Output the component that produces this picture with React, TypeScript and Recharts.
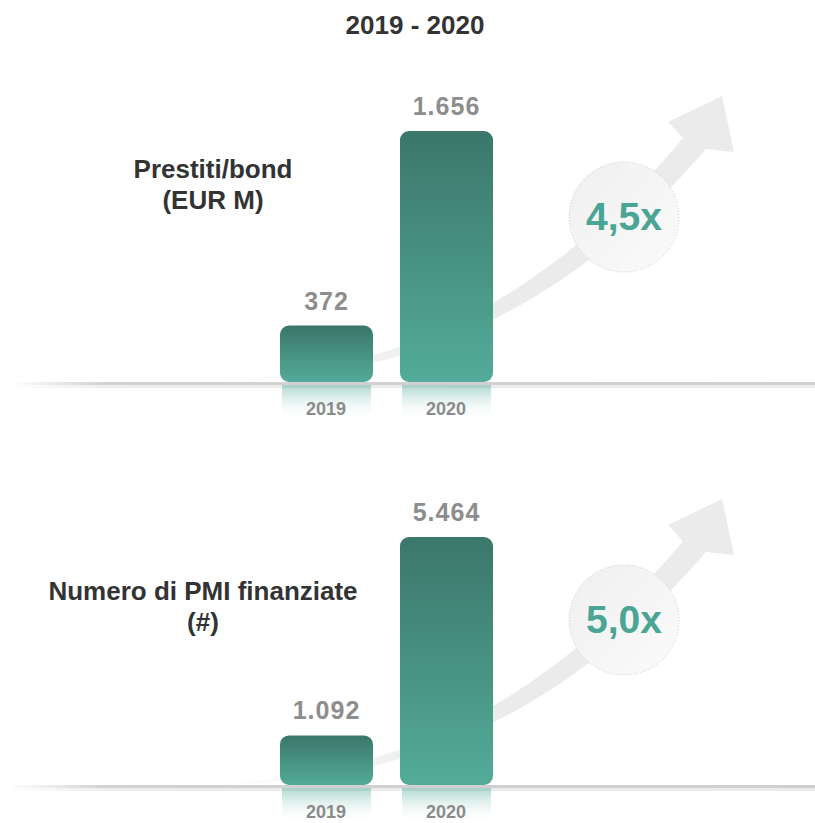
import React from 'react';
import { BarChart, Bar, XAxis, YAxis, LabelList } from 'recharts';

const years = ['2019', '2020'];
const loans = [372, 1656];
const smes = [1092, 5464];
const multiples = ['4,5x', '5,0x'];
const loansTitle = ['Prestiti/bond', '(EUR M)'];
const smesTitle = ['Numero di PMI finanziate', '(#)'];

const FONT = '"Liberation Sans", Arial, Helvetica, sans-serif';
const TEAL = '#4aa595';
const PANEL_SHIFT = 403;

// 1656 -> "1.656"
const fmt = (v: number) => String(v).replace(/\B(?=(\d{3})+(?!\d))/g, '.');

const RoundedBar = (props: any) => {
  const { x, y, width, height, gid } = props;
  const r = Math.min(9, height / 2);
  const d = `M${x},${y + r} A${r},${r} 0 0 1 ${x + r},${y} L${x + width - r},${y} A${r},${r} 0 0 1 ${x + width},${y + r}
    L${x + width},${y + height - r} A${r},${r} 0 0 1 ${x + width - r},${y + height} L${x + r},${y + height}
    A${r},${r} 0 0 1 ${x},${y + height - r} Z`;
  return (
    <g>
      <rect x={x + 2} y={y + height + 3} width={width - 4} height={36} fill={`url(#refl-${gid})`} />
      <path d={d} fill={`url(#bar-${gid})`} />
    </g>
  );
};

const YearTick = (props: any) => {
  const { x, y, payload } = props;
  return (
    <text x={x} y={y + 33} textAnchor="middle" fill="#8b8b8b" fontSize={18} fontWeight="bold" fontFamily={FONT}>
      {payload.value}
    </text>
  );
};

const Panel = ({ top, plotTop, values, gid }: { top: number; plotTop: number; values: number[]; gid: string }) => {
  const data = years.map((year, i) => ({ year, value: values[i] }));
  return (
    <div style={{ position: 'absolute', left: 0, top }}>
      <BarChart width={815} height={422} data={data} margin={{ top: plotTop, right: 309, bottom: 0, left: 266 }}>
        <defs>
          <linearGradient id={`bar-${gid}`} x1="0" y1="0" x2="0" y2="1">
            <stop offset="0%" stopColor="#3b776b" />
            <stop offset="100%" stopColor="#53ab99" />
          </linearGradient>
          <linearGradient id={`refl-${gid}`} x1="0" y1="0" x2="0" y2="1">
            <stop offset="0%" stopColor="#5fb3a2" stopOpacity={0.5} />
            <stop offset="45%" stopColor="#7cc2b3" stopOpacity={0.18} />
            <stop offset="100%" stopColor="#ffffff" stopOpacity={0} />
          </linearGradient>
        </defs>
        <YAxis hide domain={[0, Math.max(...values)]} />
        <Bar dataKey="value" barSize={93} isAnimationActive={false} shape={(p: any) => <RoundedBar {...p} gid={gid} />}>
          <LabelList
            dataKey="value"
            position="top"
            offset={16}
            formatter={(v: any) => fmt(Number(v))}
            fill="#8d8d8d"
            fontSize={25}
            fontWeight="bold"
            fontFamily={FONT}
            letterSpacing={1}
          />
        </Bar>
        <XAxis dataKey="year" axisLine={false} tickLine={false} tickSize={0} tickMargin={0} height={40} interval={0} tick={<YearTick />} />
      </BarChart>
    </div>
  );
};

const Decor = ({ dy, title, multiple, titleX, titleY }: { dy: number; title: string[]; multiple: string; titleX: number; titleY: number }) => (
  <g transform={`translate(0, ${dy})`}>
    <rect x={8} y={382} width={807} height={3} fill="url(#baseLine)" />
    <rect x={8} y={385} width={807} height={3} fill="url(#baseShadow)" />
    <path
      d="M215,380 C380,376 540,310 683,138 L668,122 L722,96 L734,152 L706,149 C560,318 400,380 215,382 Z"
      fill="url(#arrowFill)"
    />
    <circle cx={624} cy={217} r={55} fill="url(#circleFill)" stroke="#c9c9c9" strokeWidth={1} strokeDasharray="1 2" />
    <text x={624} y={230} textAnchor="middle" fill={TEAL} fontSize={39} fontWeight="bold" fontFamily={FONT}>
      {multiple}
    </text>
    <text x={titleX} y={titleY} textAnchor="middle" fill="#333" fontSize={26} fontWeight="bold" fontFamily={FONT}>
      {title[0]}
    </text>
    <text x={titleX} y={titleY + 31} textAnchor="middle" fill="#333" fontSize={26} fontWeight="bold" fontFamily={FONT}>
      {title[1]}
    </text>
  </g>
);

export default function App() {
  return (
    <div style={{ position: 'absolute', left: 0, top: 0, width: 815, height: 823, overflow: 'hidden', background: '#fff' }}>
      <svg width={815} height={823} style={{ position: 'absolute', left: 0, top: 0 }}>
        <defs>
          <linearGradient id="baseLine" gradientUnits="userSpaceOnUse" x1="8" y1="0" x2="815" y2="0">
            <stop offset="0%" stopColor="#ffffff" />
            <stop offset="12%" stopColor="#d2d2d2" />
            <stop offset="100%" stopColor="#cfcfcf" />
          </linearGradient>
          <linearGradient id="baseShadow" gradientUnits="userSpaceOnUse" x1="8" y1="0" x2="815" y2="0">
            <stop offset="0%" stopColor="#ffffff" />
            <stop offset="12%" stopColor="#ededed" />
            <stop offset="100%" stopColor="#ebebeb" />
          </linearGradient>
          <linearGradient id="arrowFill" gradientUnits="userSpaceOnUse" x1="215" y1="0" x2="470" y2="0">
            <stop offset="0%" stopColor="#e8e8e8" stopOpacity={0} />
            <stop offset="100%" stopColor="#ebebeb" stopOpacity={1} />
          </linearGradient>
          <linearGradient id="circleFill" x1="0" y1="0" x2="1" y2="1">
            <stop offset="0%" stopColor="#efefef" />
            <stop offset="100%" stopColor="#fbfbfb" />
          </linearGradient>
        </defs>
        <text x={415} y={34} textAnchor="middle" fill="#333" fontSize={26} fontWeight="bold" fontFamily={FONT}>
          2019 - 2020
        </text>
        <Decor dy={0} title={loansTitle} multiple={multiples[0]} titleX={213} titleY={178} />
        <Decor dy={PANEL_SHIFT} title={smesTitle} multiple={multiples[1]} titleX={203} titleY={197} />
      </svg>
      <Panel top={0} plotTop={131} values={loans} gid="a" />
      <Panel top={PANEL_SHIFT} plotTop={134} values={smes} gid="b" />
    </div>
  );
}
